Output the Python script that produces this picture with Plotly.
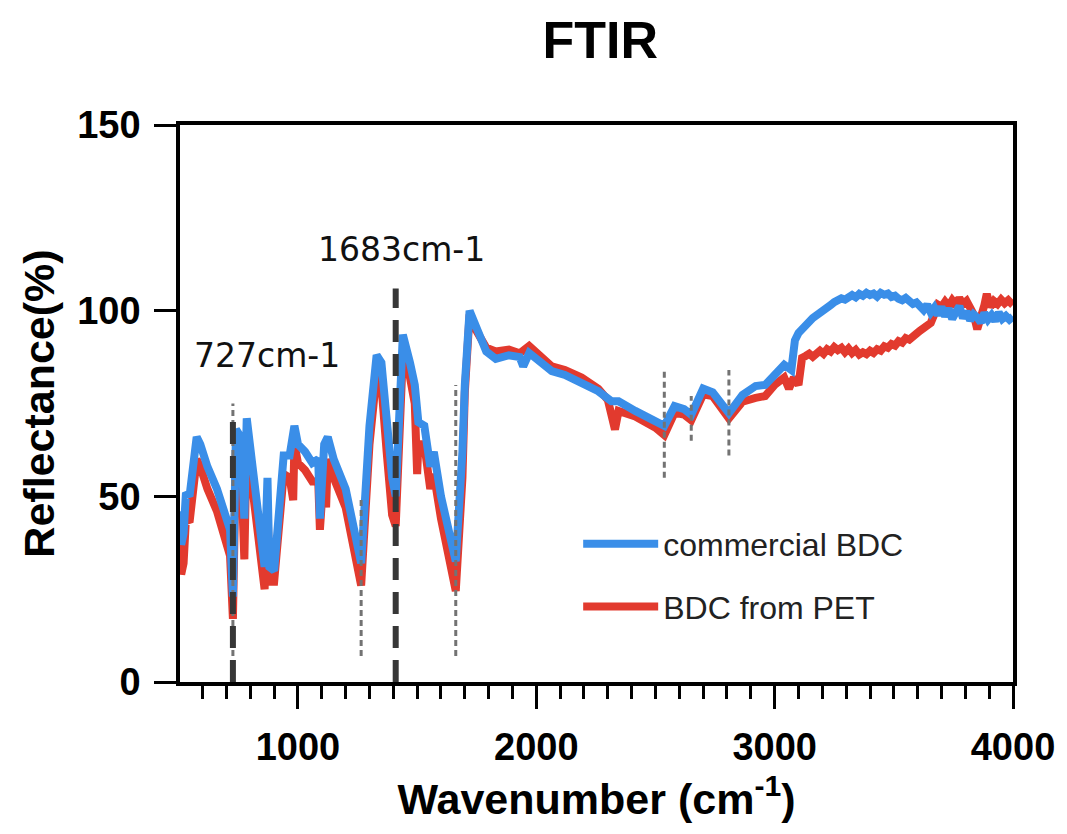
import plotly.graph_objects as go

# FTIR spectra: wavenumber (cm-1) and reflectance (%)
commercial_wn = [505, 510, 520, 530, 545, 575, 590, 620, 660, 700, 715, 727, 740, 760, 775, 785,
                 800, 830, 860, 872, 880, 900, 940, 965, 985, 1000, 1030, 1060, 1085, 1092, 1110,
                 1125, 1150, 1200, 1265, 1300, 1330, 1350, 1372, 1395, 1410, 1440, 1470, 1490,
                 1505, 1530, 1555, 1570, 1600, 1640, 1662, 1690, 1700, 1720, 1745, 1790, 1830,
                 1885, 1930, 1945, 1970, 2025, 2065, 2120, 2190, 2260, 2315, 2345, 2415, 2500,
                 2537, 2580, 2620, 2650, 2700, 2740, 2808, 2865, 2920, 2960, 3000, 3040, 3070,
                 3085, 3100, 3115, 3130, 3145, 3160, 3175, 3190, 3205, 3220, 3235, 3250, 3265,
                 3280, 3295, 3310, 3325, 3340, 3355, 3370, 3385, 3400, 3415, 3430, 3445, 3460,
                 3475, 3490, 3505, 3520, 3535, 3550, 3565, 3580, 3595, 3610, 3625, 3640, 3655,
                 3670, 3685, 3700, 3715, 3730, 3745, 3760, 3775, 3790, 3805, 3820, 3835, 3850,
                 3865, 3880, 3895, 3910, 3925, 3940, 3955, 3970, 3985, 4000]
commercial_r = [46, 37, 40, 51, 50, 66, 64, 58, 52, 45, 41, 23, 68, 66, 44, 71,
                62, 45, 31, 55, 31, 30, 61, 61, 69, 64, 62, 59, 60, 44, 64,
                66, 60, 52, 32, 69, 88, 86, 68, 55, 50, 93.5, 86, 80,
                70, 69, 58, 62, 50, 38, 32.5, 62, 80, 100, 96, 89, 87,
                88, 87.5, 85, 88.6, 85.4, 83.7, 82.7, 80.5, 78.3, 75.6, 75.6, 73, 70.5,
                69, 74.3, 73.5, 72, 79, 78, 72.4, 77.3, 79.7, 80, 82.7, 85.4, 84,
                92, 94, 95.3, 96.5, 97, 98, 98.6, 99.8, 100, 101, 101.5, 102.3, 102.6,
                103.3, 103, 103.8, 104.2, 103.6, 104.5, 104, 104.8, 104.2, 104.6, 103.8, 104.8, 104.3,
                104.6, 103.7, 104, 103.2, 102.8, 103.4, 102.4, 101.8, 102.2, 101, 100.2, 101.6, 99.5,
                100.8, 98.8, 101, 98.5, 100.6, 97.8, 99.6, 101.2, 98, 99.8, 97.4, 99, 98.2,
                96.8, 99.4, 97.6, 98.8, 97.2, 99.5, 97.8, 98.6, 97.6, 98.4]

pet_wn = [505, 510, 520, 530, 545, 575, 590, 620, 660, 700, 715, 727, 740, 760, 775, 785,
          800, 830, 860, 872, 880, 900, 940, 965, 980, 985, 1000, 1030, 1060, 1085, 1092,
          1110, 1118, 1125, 1150, 1200, 1265, 1300, 1330, 1350, 1360, 1372, 1395, 1410,
          1440, 1470, 1490, 1500, 1505, 1530, 1555, 1570, 1600, 1640, 1662, 1690, 1700,
          1720, 1745, 1790, 1830, 1885, 1930, 1970, 2025, 2065, 2120, 2190, 2260, 2300,
          2330, 2345, 2415, 2500, 2537, 2580, 2620, 2650, 2700, 2740, 2808, 2865, 2920,
          2960, 3000, 3040, 3060, 3080, 3100, 3110, 3115, 3130, 3145, 3160, 3175, 3190,
          3205, 3220, 3235, 3250, 3265, 3280, 3295, 3310, 3325, 3340, 3355, 3370, 3385,
          3400, 3415, 3430, 3445, 3460, 3475, 3490, 3505, 3520, 3535, 3550, 3565, 3580,
          3595, 3610, 3625, 3640, 3655, 3670, 3685, 3700, 3715, 3730, 3745, 3760, 3775,
          3790, 3805, 3820, 3835, 3850, 3865, 3880, 3890, 3905, 3920, 3935, 3950, 3965,
          3980, 4000]
pet_r = [38, 29, 32, 44, 43, 60, 58, 52, 46, 38, 34, 17, 62, 60, 33, 65,
         56, 38, 25, 48, 27, 27, 56, 55, 49, 64, 59, 57, 54, 54, 41,
         58, 47, 60, 55, 47, 26, 64, 83, 80, 70, 62, 45, 42,
         88, 82, 75, 56, 64, 64, 52, 56, 44, 32, 24.5, 55, 78,
         99, 95, 90, 89, 89.5, 88.5, 90.5, 87, 85, 84, 82, 79, 76,
         68, 73, 71.5, 68.5, 66.5, 72.5, 72, 70.5, 77.5, 77, 71, 75.5, 76.5,
         77, 80, 82, 79, 82, 80, 84, 87.3, 87.8, 88.4, 87.6, 88.6, 89.2,
         88.4, 89.6, 89, 90.2, 89.4, 90, 88.8, 89.8, 88.6, 89.4, 88.2, 88.8, 88.3,
         89.2, 88.6, 89.6, 89.2, 90.4, 90, 91, 90.6, 91.8, 91.4, 92.6, 92.2, 93.4,
         93.8, 94.6, 95.3, 96.2, 96.7, 99, 101.6, 101, 102.4, 101.2, 102.8, 101.6, 103.4,
         101.8, 102.6, 100.8, 99, 95, 97.5, 101.5, 104.5, 101, 102.6, 101.8, 103, 102,
         102.8, 101.5]

# Marked bands: thick dashed guides and thin dotted guides (x, y from, y to)
thick_x = [727, 1410]
thick_y0 = [0, 0]
thick_y1 = [73, 106]
thin_x = [727, 1265, 1662, 2537, 2650, 2808]
thin_y0 = [7, 7, 7, 55, 65, 61]
thin_y1 = [75, 49, 80, 84, 77, 84]

band_labels = ["727cm-1", "1683cm-1"]
band_label_x = [868, 1436]
band_label_y = [88, 116.6]

x_ticks = [1000, 2000, 3000, 4000]
y_ticks = [0, 50, 100, 150]

BLUE = "#3a8ee8"
RED = "#e23a2e"
FONT = "Arial, 'Liberation Sans', sans-serif"

fig = go.Figure()
fig.add_trace(go.Scatter(x=pet_wn, y=pet_r, mode="lines", name="BDC from PET",
                         line=dict(color=RED, width=8), legendrank=2, legendgroup="pet"))
fig.add_trace(go.Scatter(x=commercial_wn, y=commercial_r, mode="lines", name="commercial BDC",
                         line=dict(color=BLUE, width=8), legendrank=1, legendgroup="com"))

for x, y0, y1 in zip(thin_x, thin_y0, thin_y1):
    fig.add_shape(type="line", xref="x", yref="y", x0=x, x1=x, y0=y0, y1=y1,
                  line=dict(color="rgb(115,115,115)", width=3, dash="6px,4px"))
for x, y0, y1 in zip(thick_x, thick_y0, thick_y1):
    fig.add_shape(type="line", xref="x", yref="y", x0=x, x1=x, y0=y0, y1=y1,
                  line=dict(color="rgb(55,55,55)", width=6, dash="22px,12px"))

for txt, x, y in zip(band_labels, band_label_x, band_label_y):
    fig.add_annotation(x=x, y=y, xref="x", yref="y", text=txt, showarrow=False,
                       font=dict(family="'DejaVu Sans', sans-serif", size=33, color="#111"))

fig.update_layout(
    width=1067, height=834,
    margin=dict(l=180, r=50, t=125, b=152),
    paper_bgcolor="white", plot_bgcolor="white",
    title=dict(text="FTIR", x=0.5625, xanchor="center", y=0.952, yanchor="middle",
               font=dict(family=FONT, size=52, color="black", weight="bold")),
    showlegend=True,
    legend=dict(x=0.478, y=0.297, xanchor="left", yanchor="top", bgcolor="rgba(0,0,0,0)",
                font=dict(family=FONT, size=32, color="#222"),
                traceorder="grouped", itemwidth=75, tracegroupgap=18),
)

fig.update_xaxes(
    range=[505, 4000], tickvals=x_ticks, ticks="outside", ticklen=23, tickwidth=3,
    tickcolor="black", showline=True, linewidth=3.5, linecolor="black", mirror=True,
    showgrid=False, zeroline=False,
    minor=dict(dtick=100, tick0=0, ticks="outside", ticklen=13, tickwidth=3, tickcolor="black",
               showgrid=False),
    tickfont=dict(family=FONT, size=38, color="black", weight="bold"),
    ticklabelstandoff=6,
    title=dict(text="Wavenumber (cm<sup>-1</sup>)", standoff=18,
               font=dict(family=FONT, size=43, color="black", weight="bold")),
)
fig.update_yaxes(
    range=[0, 150], tickvals=y_ticks, ticks="outside", ticklen=22, tickwidth=3,
    tickcolor="black", showline=True, linewidth=3.5, linecolor="black", mirror=True,
    showgrid=False, zeroline=False,
    tickfont=dict(family=FONT, size=38, color="black", weight="bold"),
    ticklabelstandoff=6,
    title=dict(text="Reflectance(%)", standoff=10,
               font=dict(family=FONT, size=43, color="black", weight="bold")),
)

fig.write_html("out.html")
